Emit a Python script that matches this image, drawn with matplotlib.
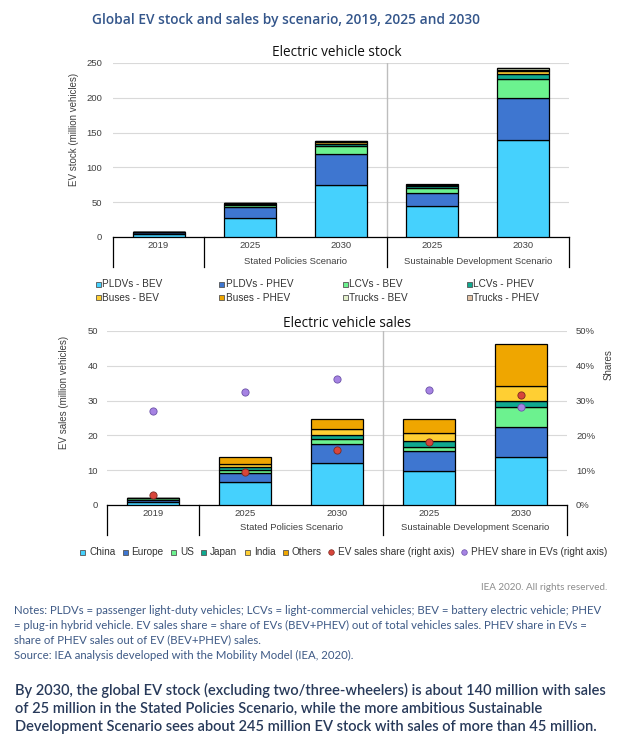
import matplotlib
matplotlib.use("Agg")
import matplotlib.pyplot as plt
import matplotlib.transforms as mtransforms
from matplotlib.patches import Rectangle
from matplotlib.lines import Line2D
from matplotlib.ticker import PercentFormatter

# ---------------- data ----------------
years = ["2019", "2025", "2030", "2025", "2030"]
scenarios = ["Stated Policies Scenario", "Sustainable Development Scenario"]

stock_labels = ["PLDVs - BEV", "PLDVs - PHEV", "LCVs - BEV", "LCVs - PHEV",
                "Buses - BEV", "Buses - PHEV", "Trucks - BEV", "Trucks - PHEV"]
pldv_bev = [4.5, 28.0, 74.5, 44.0, 139.0]
pldv_phev = [2.3, 14.5, 44.7, 19.6, 60.0]
lcv_bev = [0.35, 3.5, 12.0, 7.0, 27.5]
lcv_phev = [0.02, 1.5, 2.5, 2.0, 7.5]
bus_bev = [0.5, 0.8, 2.5, 1.5, 5.0]
bus_phev = [0.02, 0.3, 0.8, 0.5, 1.2]
truck_bev = [0.01, 0.4, 1.0, 0.7, 2.3]
truck_phev = [0.01, 0.2, 0.4, 0.3, 1.0]
stock_series = [pldv_bev, pldv_phev, lcv_bev, lcv_phev, bus_bev, bus_phev, truck_bev, truck_phev]

sales_labels = ["China", "Europe", "US", "Japan", "India", "Others"]
china = [1.0, 6.6, 12.2, 9.9, 13.9]
europe = [0.56, 2.7, 5.4, 5.5, 8.4]
us = [0.33, 0.9, 1.4, 1.4, 5.8]
japan = [0.04, 0.6, 1.1, 1.5, 1.7]
india = [0.01, 1.0, 1.8, 2.3, 4.3]
others = [0.16, 1.95, 2.8, 4.1, 12.2]
sales_series = [china, europe, us, japan, india, others]

share_labels = ["EV sales share (right axis)", "PHEV share in EVs (right axis)"]
ev_sales_share = [0.029, 0.095, 0.158, 0.181, 0.315]
phev_share = [0.269, 0.324, 0.362, 0.331, 0.281]

# ---------------- style ----------------
stock_colors = ["#45D1FD", "#3E76D0", "#6CF28F", "#0FA98F",
                "#FFCF33", "#EFA600", "#E3EFCB", "#E3C3A6"]
sales_colors = ["#45D1FD", "#3E76D0", "#6CF28F", "#0FA98F", "#FFCF33", "#EFA600"]
red, red_edge = "#D8453A", "#7A2A22"
purple, purple_edge = "#A683E3", "#6B52A8"

W, H = 636, 735
fig = plt.figure(figsize=(W / 100, H / 100), dpi=100)
fig.patch.set_facecolor("white")
renderer = fig.canvas.get_renderer()


def fx(x):
    return x / W


def fy(y):
    return 1 - y / H


tick_font = dict(family=["Liberation Sans", "DejaVu Sans"], size=6.8, color="#404040")
leg_font = dict(family=["Liberation Sans", "DejaVu Sans"], size=7.2, color="#333333")
title_font = ["Open Sans", "DejaVu Sans"]
body_font = ["Lato", "DejaVu Sans"]

x = list(range(len(years)))
bw = 0.57


def category_axis(ax, ylab_y, yscen_y, axes_h_px):
    trans = mtransforms.blended_transform_factory(ax.transData, ax.transAxes)
    depth = 30 / axes_h_px
    for xs in [-0.5, 0.5, 2.5, 4.5]:
        ax.add_line(Line2D([xs, xs], [0, -depth], transform=trans, color="black",
                           lw=0.9, clip_on=False))
    for i, yr in enumerate(years):
        ax.text(i, -ylab_y / axes_h_px, yr, transform=trans, ha="center", va="center",
                **tick_font)
    ax.text(1.5, -yscen_y / axes_h_px, scenarios[0], transform=trans, ha="center",
            va="center", **tick_font)
    ax.text(3.5, -yscen_y / axes_h_px, scenarios[1], transform=trans, ha="center",
            va="center", **tick_font)
    ax.axvline(2.5, color="#BDBDBD", lw=1.0, zorder=1)


def style_axes(ax):
    for s in ["top", "right", "left"]:
        ax.spines[s].set_visible(False)
    ax.spines["bottom"].set_color("black")
    ax.spines["bottom"].set_linewidth(0.9)
    ax.set_xticks([])
    ax.tick_params(axis="y", length=0)
    ax.grid(axis="y", color="#D9D9D9", lw=0.8)
    ax.set_axisbelow(True)
    ax.set_xlim(-0.5, 4.5)


def style_ticklabels(ax):
    for lab in ax.get_yticklabels():
        lab.set_fontfamily(tick_font["family"])
        lab.set_fontsize(tick_font["size"])
        lab.set_color(tick_font["color"])


# ---------------- stock chart ----------------
ax1 = fig.add_axes([fx(113), fy(237), (569 - 113) / W, (237 - 63) / H])
style_axes(ax1)
bottom = [0.0] * len(years)
for vals, col in zip(stock_series, stock_colors):
    ax1.bar(x, vals, bw, bottom=bottom, color=col, edgecolor="black", lw=0.9, zorder=3)
    bottom = [b + v for b, v in zip(bottom, vals)]
ax1.set_ylim(0, 250)
ax1.set_yticks([0, 50, 100, 150, 200, 250])
ax1.tick_params(axis="y", pad=8)
style_ticklabels(ax1)
category_axis(ax1, 9, 24, 174)

fig.text(fx(74), fy(129), "EV stock (million vehicles)", rotation=90, ha="center",
         va="center", **{**tick_font, "size": 7})
fig.text(fx(337), fy(52), "Electric vehicle stock", ha="center", va="center",
         family=title_font, size=9.8, color="#111111")

# stock legend
cols_x = [98, 221.5, 345, 469]
rows_y = [284, 298]
for k, (lab, col) in enumerate(zip(stock_labels, stock_colors)):
    cx = cols_x[k % 4]
    cy = rows_y[k // 4]
    fig.patches.append(Rectangle((fx(cx - 2.5), fy(cy + 2.5)), 5 / W, 5 / H,
                                 transform=fig.transFigure, facecolor=col,
                                 edgecolor="#555555", lw=0.6))
    fig.text(fx(cx + 4), fy(cy), lab, ha="left", va="center", **leg_font)

# ---------------- sales chart ----------------
ax2 = fig.add_axes([fx(107), fy(505), (567 - 107) / W, (505 - 331) / H])
style_axes(ax2)
bottom = [0.0] * len(years)
for vals, col in zip(sales_series, sales_colors):
    ax2.bar(x, vals, bw, bottom=bottom, color=col, edgecolor="black", lw=0.9, zorder=3)
    bottom = [b + v for b, v in zip(bottom, vals)]
ax2.set_ylim(0, 50)
ax2.set_yticks([0, 10, 20, 30, 40, 50])
ax2.tick_params(axis="y", pad=6.5)
style_ticklabels(ax2)
category_axis(ax2, 9, 23, 174)

ax3 = ax2.twinx()
ax3.set_ylim(0, 0.5)
ax3.set_yticks([0, 0.1, 0.2, 0.3, 0.4, 0.5])
ax3.yaxis.set_major_formatter(PercentFormatter(1.0, decimals=0))
ax3.tick_params(axis="y", length=0, pad=6.5)
for s in ["top", "right", "left", "bottom"]:
    ax3.spines[s].set_visible(False)
style_ticklabels(ax3)
ax3.plot(x, phev_share, ls="none", marker="o", ms=5.2, mfc=purple, mec=purple_edge,
         mew=0.6, zorder=5)
ax3.plot(x, ev_sales_share, ls="none", marker="o", ms=5.2, mfc=red, mec=red_edge,
         mew=0.6, zorder=5)
ax3.set_xlim(-0.5, 4.5)

fig.text(fx(64), fy(392), "EV sales (million vehicles)", rotation=90, ha="center",
         va="center", **{**tick_font, "size": 7})
fig.text(fx(609), fy(365), "Shares", rotation=90, ha="center", va="center",
         **{**tick_font, "size": 7})
fig.text(fx(347), fy(324), "Electric vehicle sales", ha="center", va="center",
         family=title_font, size=9.8, color="#111111")

# sales legend: sequential layout from x=80 to x=607
items = [(lab, "s", col, "#555555") for lab, col in zip(sales_labels, sales_colors)]
items += [(share_labels[0], "o", red, red_edge), (share_labels[1], "o", purple, purple_edge)]
ly = 552
texts = []
widths = []
for lab, kind, col, ec in items:
    t = fig.text(0, fy(ly), lab, ha="left", va="center", **leg_font)
    texts.append(t)
    widths.append(t.get_window_extent(renderer).width)
start, end = 80.0, 607.0
mark_w = 9.0
gap = (end - start - sum(widths) - mark_w * len(items)) / (len(items) - 1)
cur = start
for (lab, kind, col, ec), t, w in zip(items, texts, widths):
    cx = cur + 2.5
    if kind == "s":
        fig.patches.append(Rectangle((fx(cx - 2.5), fy(ly + 2.5)), 5 / W, 5 / H,
                                     transform=fig.transFigure, facecolor=col,
                                     edgecolor=ec, lw=0.6))
    else:
        fig.add_artist(Line2D([fx(cx)], [fy(ly)], transform=fig.transFigure, marker="o",
                              ms=4, mfc=col, mec=ec, mew=0.5, ls="none"))
    t.set_x(fx(cur + mark_w))
    cur += mark_w + w + gap

# ---------------- texts ----------------
fig.text(fx(92), fy(20), "Global EV stock and sales by scenario, 2019, 2025 and 2030",
         ha="left", va="center", family=title_font, size=9.9, weight="semibold",
         color="#34568B")
fig.text(fx(607), fy(588), "IEA 2020. All rights reserved.", ha="right", va="center",
         family=body_font, size=7.1, color="#8C8C8C")

notes = ["Notes: PLDVs = passenger light-duty vehicles; LCVs = light-commercial vehicles; BEV = battery electric vehicle; PHEV",
         "= plug-in hybrid vehicle. EV sales share = share of EVs (BEV+PHEV) out of total vehicles sales. PHEV share in EVs =",
         "share of PHEV sales out of EV (BEV+PHEV) sales.",
         "Source: IEA analysis developed with the Mobility Model (IEA, 2020)."]
for i, line in enumerate(notes):
    fig.text(fx(14), fy(610 + 15 * i), line, ha="left", va="center", family=body_font,
             size=8.2, color="#3E5A86")

summary = ["By 2030, the global EV stock (excluding two/three-wheelers) is about 140 million with sales",
           "of 25 million in the Stated Policies Scenario, while the more ambitious Sustainable",
           "Development Scenario sees about 245 million EV stock with sales of more than 45 million."]
for i, line in enumerate(summary):
    fig.text(fx(15), fy(690 + 18.5 * i), line, ha="left", va="center", family=body_font,
             size=10.5, weight="semibold", color="#283A5A")

fig.savefig("out.png", dpi=100, facecolor="white")
